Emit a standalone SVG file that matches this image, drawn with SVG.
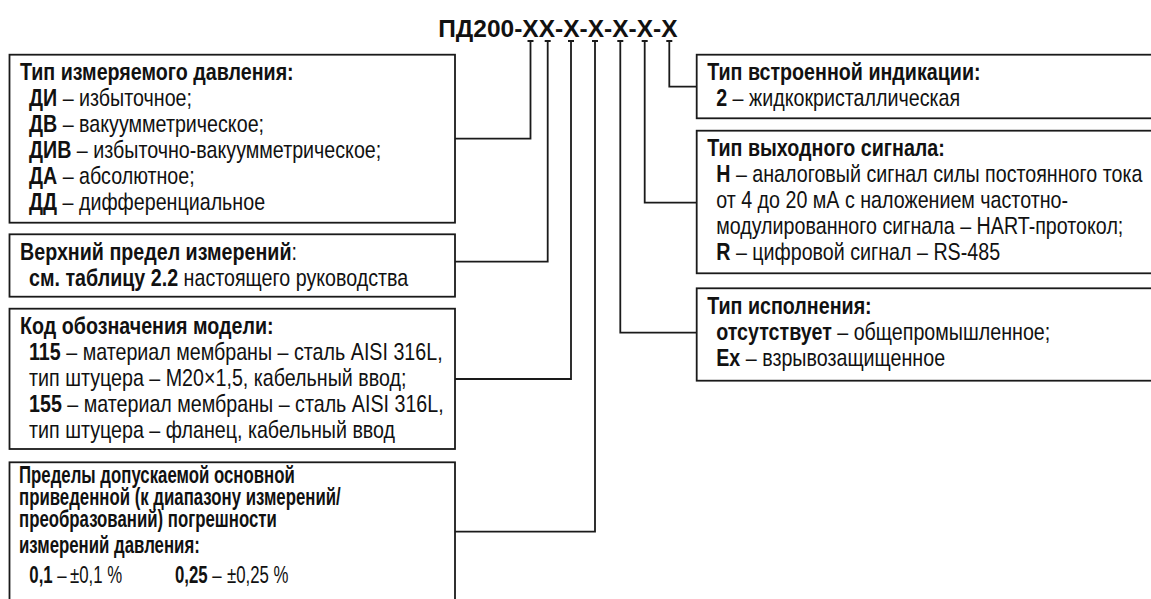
<svg xmlns="http://www.w3.org/2000/svg" width="1151" height="599" viewBox="0 0 1151 599">
<style>
.box{fill:none;stroke:#1a1a1a;stroke-width:1.8}
.conn{fill:none;stroke:#1a1a1a;stroke-width:1.8}
text{font-family:"Liberation Sans",Arial,sans-serif;font-size:24px;fill:#111}
.b{font-weight:bold}
.title{font-size:24.5px;font-weight:bold}
</style>
<rect width="1151" height="599" fill="#fff"/>
<g id="title"><text class="title" x="677.5" y="36.7" text-anchor="end">ПД200-XX-X-X-X-X-X</text></g>

<g id="connectors" class="conn">
<path d="M527.5 41H533.5M544.7 41H550.7M568 41H574M592 41H598M617.3 41H623.3M641.7 41H647.7M666.3 41H672.3"/>
<path d="M530.5 41V138.7H455"/>
<path d="M547.7 41V261.7H455"/>
<path d="M571 41V379H455"/>
<path d="M595 41V531.7H455"/>
<path d="M620.3 41V332.7H696.7"/>
<path d="M644.7 41V202.7H696.7"/>
<path d="M669.3 41V86.7H696.7"/>
</g>

<g id="pressure-type">
<rect class="box" x="9.5" y="54.7" width="445.5" height="168"/>
<g transform="translate(20 0) scale(0.82 1)">
<text class="b" x="0" y="80">Тип измеряемого давления:</text>
<text x="11" y="106"><tspan class="b">ДИ</tspan> – избыточное;</text>
<text x="11" y="132"><tspan class="b">ДВ</tspan> – вакуумметрическое;</text>
<text x="11" y="158"><tspan class="b">ДИВ</tspan> – избыточно-вакуумметрическое;</text>
<text x="11" y="184"><tspan class="b">ДА</tspan> – абсолютное;</text>
<text x="11" y="210"><tspan class="b">ДД</tspan> – дифференциальное</text>
</g>
</g>

<g id="upper-limit">
<rect class="box" x="9.5" y="234.3" width="445.5" height="62.4"/>
<g transform="translate(20 0) scale(0.82 1)">
<text x="0" y="259.6"><tspan class="b">Верхний предел измерений</tspan>:</text>
<text x="11" y="285.6"><tspan class="b">см. таблицу 2.2</tspan> настоящего руководства</text>
</g>
</g>

<g id="model-code">
<rect class="box" x="9.5" y="308.7" width="445.5" height="140.3"/>
<g transform="translate(20 0) scale(0.82 1)">
<text class="b" x="0" y="334">Код обозначения модели:</text>
<text x="11" y="360"><tspan class="b">115</tspan> – материал мембраны – сталь AISI 316L,</text>
<text x="11" y="386">тип штуцера – М20×1,5, кабельный ввод;</text>
<text x="11" y="412"><tspan class="b">155</tspan> – материал мембраны – сталь AISI 316L,</text>
<text x="11" y="438">тип штуцера – фланец, кабельный ввод</text>
</g>
</g>

<g id="accuracy">
<rect class="box" x="9.5" y="462.3" width="445.5" height="200"/>
<g transform="translate(19 0) scale(0.70 1)">
<text class="b" x="0" y="483">Пределы допускаемой основной</text>
<text class="b" x="0" y="505">приведенной (к диапазону измерений/</text>
<text class="b" x="0" y="527">преобразований) погрешности</text>
<text class="b" x="0" y="553">измерений давления:</text>
<text x="14.7" y="583"><tspan class="b">0,1</tspan> –<tspan x="72.9">±0,1 %</tspan><tspan class="b" x="222.9">0,25</tspan> –<tspan x="297.1">±0,25 %</tspan></text>
</g>
</g>

<g id="indication">
<rect class="box" x="696.7" y="54.7" width="470" height="63.6"/>
<g transform="translate(707.2 0) scale(0.82 1)">
<text class="b" x="0" y="80">Тип встроенной индикации:</text>
<text x="11" y="106"><tspan class="b">2</tspan> – жидкокристаллическая</text>
</g>
</g>

<g id="output-signal">
<rect class="box" x="696.7" y="130.7" width="470" height="142.6"/>
<g transform="translate(707.2 0) scale(0.82 1)">
<text class="b" x="0" y="156">Тип выходного сигнала:</text>
<text x="11" y="182"><tspan class="b">Н</tspan> – аналоговый сигнал силы постоянного тока</text>
<text x="11" y="208">от 4 до 20 мА с наложением частотно-</text>
<text x="11" y="234">модулированного сигнала – HART-протокол;</text>
<text x="11" y="260"><tspan class="b">R</tspan> – цифровой сигнал – RS-485</text>
</g>
</g>

<g id="execution">
<rect class="box" x="696.7" y="288.3" width="470" height="92.4"/>
<g transform="translate(707.2 0) scale(0.82 1)">
<text class="b" x="0" y="313.6">Тип исполнения:</text>
<text x="11" y="339.6"><tspan class="b">отсутствует</tspan> – общепромышленное;</text>
<text x="11" y="365.6"><tspan class="b">Ex</tspan> – взрывозащищенное</text>
</g>
</g>
</svg>
